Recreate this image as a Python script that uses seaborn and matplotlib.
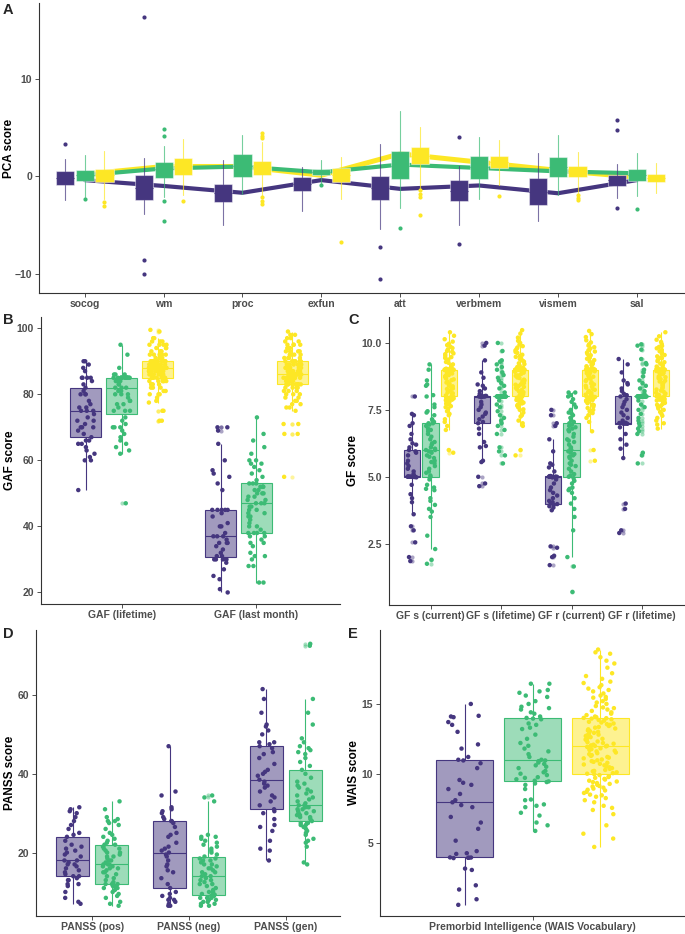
import numpy as np
import pandas as pd
import seaborn as sns
import matplotlib.pyplot as plt
from matplotlib.colors import to_rgba
from matplotlib import transforms

GROUPS = ["SZ", "BD", "HC"]
COLORS = {"SZ": "#45367F", "BD": "#3CBB75", "HC": "#FDE725"}

# ---- panel A: PCA domain scores (box summaries + group means) ----
PCA_DOMAINS = ["socog", "wm", "proc", "exfun", "att", "verbmem", "vismem", "sal"]

PCA_Q1_SZ = [-0.86, -2.47, -2.67, -1.5, -2.47, -2.57, -3.0, -0.96]
PCA_MED_SZ = [-0.2, -1.2, -1.7, -0.8, -1.2, -1.5, -1.6, -0.4]
PCA_Q3_SZ = [0.55, 0.1, -0.79, -0.07, 0.03, -0.41, -0.17, 0.14]
PCA_LO_SZ = [-2.47, -3.9, -5.0, -3.56, -5.4, -5.0, -4.6, -2.2]
PCA_HI_SZ = [1.8, 1.92, 1.7, 0.9, 3.36, 1.03, 2.36, 1.3]
PCA_OUT_SZ = [[3.3], [16.4, -8.56, -10.0], [], [], [-7.26, -10.6], [4.0, -7.0], [], [5.8, 4.73, -3.3]]
PCA_MEAN_SZ = [-0.4, -1.0, -1.7, -0.4, -1.3, -0.95, -1.75, -0.4]

PCA_Q1_BD = [-0.45, -0.14, -0.07, 0.1, -0.24, -0.24, -0.07, -0.51]
PCA_MED_BD = [0.1, 0.7, 1.0, 0.4, 1.1, 0.9, 0.9, 0.1]
PCA_Q3_BD = [0.62, 1.44, 2.26, 0.75, 2.57, 2.05, 1.95, 0.79]
PCA_LO_BD = [-2.1, -2.1, -1.8, -0.75, -3.3, -2.33, -1.95, -2.0]
PCA_HI_BD = [2.16, 3.15, 4.2, 1.64, 6.68, 4.0, 4.28, 2.36]
PCA_OUT_BD = [[-2.36], [4.83, 4.14, -2.53, -4.59], [], [-0.86], [-5.27], [], [], [-3.36]]
PCA_MEAN_BD = [0.1, 0.8, 1.0, 0.4, 1.2, 0.85, 0.5, 0.3]

PCA_Q1_HC = [-0.58, 0.1, 0.17, -0.58, 1.3, 0.86, -0.07, -0.62]
PCA_MED_HC = [0.1, 1.0, 0.9, 0.1, 2.1, 1.5, 0.5, -0.2]
PCA_Q3_HC = [0.72, 1.92, 1.6, 0.8, 3.0, 2.1, 1.1, 0.27]
PCA_LO_HC = [-2.3, -1.9, -2.05, -2.3, -1.2, -0.86, -1.7, -1.68]
PCA_HI_HC = [2.57, 3.8, 3.5, 2.0, 5.07, 3.7, 2.47, 1.4]
PCA_OUT_HC = [[-2.64, -3.08], [-2.57], [4.4, 4.1, 3.9, -2.1, -2.5, -2.9], [-6.75],
              [-1.4, -1.8, -2.1, -3.94], [-2.05], [-1.95, -2.2, -2.4], []]
PCA_MEAN_HC = [0.2, 1.0, 1.0, 0.1, 2.3, 1.45, 0.6, -0.1]

# ---- panel B: GAF ----
GAF_MEASURES = ["GAF (lifetime)", "GAF (last month)"]
GAF_LIFE_SZ = [51, 60, 60, 61, 62, 63, 64, 65, 65, 66, 66, 67, 68, 69, 70, 70, 70, 71, 72, 72, 73, 74, 75,
               75, 75, 76, 76, 77, 78, 80, 80, 80, 81, 82, 83, 84, 85, 85, 85, 85, 87, 88, 89, 90, 90]
GAF_LIFE_BD = [47, 62, 63, 64, 65, 66, 67, 68, 69, 70, 70, 70, 71, 72, 73, 75, 75, 75, 76, 77, 77, 78, 78,
               79, 80, 80, 80, 81, 81, 82, 82, 82, 83, 83, 84, 84, 84, 85, 85, 85, 85, 85, 85, 85, 85, 85,
               85, 85, 85, 85, 85, 85, 85, 86, 86, 86, 88, 92, 95]
GAF_LIFE_HC = [72, 72, 75, 75, 77.5, 78, 79, 80, 80, 80, 81, 81, 82, 82, 82, 83, 83, 83, 83, 84, 84, 84, 84,
               84, 84, 85, 85, 85, 85, 85, 85, 85, 85, 86, 86, 86, 86, 86, 86, 86, 87, 87, 87, 87, 87, 87,
               87, 87, 87, 87, 88, 88, 88, 88, 88, 88, 88, 88, 88, 88, 88, 88, 88, 88, 88, 89, 89, 89, 89,
               89, 89, 89, 89, 89, 89, 89, 89, 89, 90, 90, 90, 90, 90, 90, 90, 90, 90, 90, 90, 90, 90, 90,
               90, 91, 91, 91, 91, 92, 92, 92, 92, 92, 93, 93, 93, 93, 94, 94, 94, 95, 95, 95, 95, 96, 96,
               96, 97, 97, 99, 99.5]
GAF_MONTH_SZ = [20, 21, 24, 25, 27, 29, 30, 30, 30, 30, 30, 31, 31, 32, 33, 34, 35, 35, 35, 36, 37, 37, 37,
                38, 40, 40, 41, 43, 44, 45, 45, 45, 45, 45, 51, 53, 55, 56, 57, 60, 65, 69, 70, 70]
GAF_MONTH_BD = [23, 23, 28, 28, 30, 31, 31, 32, 34, 35, 35, 36, 37, 37, 38, 38, 38, 38, 39, 40, 40, 41, 42,
                43, 43, 44, 44, 45, 45, 46, 46, 47, 47, 47, 48, 48, 49, 49, 50, 50, 50, 51, 51, 52, 52, 52,
                52, 53, 53, 53, 54, 55, 56, 57, 58, 59, 59, 60, 60, 62, 64, 66, 68, 73]
GAF_MONTH_HC = [55, 68, 68, 71, 71, 75, 76, 76, 77, 77, 78, 78, 79, 79, 80, 80, 80, 81, 81, 81, 82, 82, 82,
                82, 83, 83, 83, 83, 83, 83, 83, 83, 83, 83, 84, 84, 84, 84, 84, 84, 84, 85, 85, 85, 85, 85,
                85, 85, 85, 85, 85, 86, 86, 86, 86, 86, 86, 86, 86, 86, 86, 86, 86, 87, 87, 87, 87, 87, 87,
                87, 88, 88, 88, 88, 88, 88, 88, 89, 89, 89, 89, 89, 89, 89, 90, 90, 90, 90, 90, 90, 90, 90,
                90, 90, 91, 91, 91, 91, 92, 92, 92, 92, 93, 93, 93, 93, 94, 94, 94, 95, 95, 95, 95, 96, 96,
                97, 97, 98, 98, 99]

# ---- panel C: GF ----
GF_MEASURES = ["GF s (current)", "GF s (lifetime)", "GF r (current)", "GF r (lifetime)"]
GFS_CUR_SZ = [1.85, 2.0, 2.55, 3.0, 3.15, 3.6, 4.05, 4.2, 4.35, 4.7, 4.98, 4.99, 5.0, 5.0, 5.0, 5.0, 5.0,
              5.0, 5.01, 5.01, 5.02, 5.1, 5.2, 5.3, 5.4, 5.5, 5.6, 5.8, 5.9, 5.95, 6.0, 6.1, 6.2, 6.25,
              6.4, 6.6, 6.9, 7.0, 7.3, 7.35, 8.0]
GFS_CUR_BD = [1.75, 1.9, 2.3, 2.8, 3.5, 3.7, 3.8, 3.95, 4.1, 4.2, 4.5, 4.55, 4.6, 4.7, 4.9, 5.0, 5.05, 5.15,
              5.2, 5.3, 5.4, 5.5, 5.55, 5.6, 5.7, 5.75, 5.8, 5.9, 5.95, 6.0, 6.0, 6.05, 6.1, 6.2, 6.25,
              6.3, 6.4, 6.5, 6.6, 6.7, 6.75, 6.8, 6.9, 6.95, 7.0, 7.0, 7.05, 7.1, 7.15, 7.3, 7.4, 7.45,
              7.6, 7.7, 8.0, 8.05, 8.4, 8.45, 8.6, 9.0, 9.2]
GFS_CUR_HC = [5.9, 6.0, 6.75, 6.9, 7.05, 7.15, 7.3, 7.35, 7.45, 7.55, 7.6, 7.64, 7.71, 7.73, 7.78, 7.8, 7.84,
              7.86, 7.88, 7.91, 7.93, 7.94, 7.96, 7.98, 7.99, 8.0, 8.04, 8.09, 8.12, 8.15, 8.2, 8.23, 8.28,
              8.3, 8.35, 8.38, 8.41, 8.47, 8.52, 8.55, 8.61, 8.64, 8.67, 8.73, 8.76, 8.8, 8.86, 8.88, 8.93,
              8.96, 9.0, 9.0, 9.0, 9.0, 9.0, 9.0, 9.0, 9.0, 9.0, 9.0, 9.0, 9.0, 9.0, 9.0, 9.0, 9.0, 9.0,
              9.0, 9.0, 9.0, 9.0, 9.0, 9.0, 9.0, 9.0, 9.0, 9.04, 9.06, 9.11, 9.17, 9.2, 9.26, 9.29, 9.35,
              9.38, 9.44, 9.47, 9.52, 9.58, 9.61, 9.67, 9.7, 9.76, 9.81, 9.86, 9.92, 9.97, 10.05, 10.14,
              10.27, 10.4]
GFS_LIFE_SZ = [4.65, 4.75, 5.0, 5.55, 5.6, 6.1, 6.15, 6.3, 6.6, 6.8, 7.0, 7.05, 7.15, 7.25, 7.35, 7.4, 7.5,
               7.6, 7.7, 7.8, 7.98, 7.99, 8.0, 8.0, 8.0, 8.0, 8.0, 8.0, 8.01, 8.02, 8.02, 8.1, 8.2, 8.3,
               8.4, 8.45, 8.7, 8.9, 9.35, 9.9, 10.0]
GFS_LIFE_BD = [5.5, 5.8, 5.95, 6.1, 6.6, 6.75, 6.9, 7.0, 7.1, 7.2, 7.3, 7.45, 7.6, 7.7, 7.85, 8.0, 8.0, 8.0,
               8.0, 8.0, 8.0, 8.0, 8.0, 8.0, 8.0, 8.0, 8.0, 8.0, 8.0, 8.0, 8.0, 8.0, 8.0, 8.0, 8.0, 8.0,
               8.0, 8.0, 8.0, 8.0, 8.0, 8.0, 8.0, 8.0, 8.0, 8.0, 8.15, 8.3, 8.4, 8.5, 8.6, 8.7, 8.8, 8.9,
               9.0, 9.1, 9.2, 9.3, 9.35, 9.7, 10.0]
GFS_LIFE_HC = [5.8, 6.0, 6.9, 7.0, 7.1, 7.25, 7.3, 7.4, 7.5, 7.52, 7.6, 7.66, 7.7, 7.74, 7.77, 7.81, 7.83,
               7.87, 7.89, 7.9, 7.93, 7.95, 7.97, 7.98, 7.99, 8.0, 8.03, 8.08, 8.1, 8.16, 8.19, 8.24, 8.27,
               8.32, 8.36, 8.39, 8.44, 8.46, 8.5, 8.57, 8.6, 8.63, 8.69, 8.71, 8.77, 8.79, 8.84, 8.89, 8.92,
               8.97, 9.0, 9.0, 9.0, 9.0, 9.0, 9.0, 9.0, 9.0, 9.0, 9.0, 9.0, 9.0, 9.0, 9.0, 9.0, 9.0, 9.0,
               9.0, 9.0, 9.0, 9.0, 9.0, 9.0, 9.0, 9.0, 9.0, 9.03, 9.08, 9.1, 9.15, 9.21, 9.24, 9.3, 9.33,
               9.4, 9.42, 9.48, 9.51, 9.56, 9.63, 9.66, 9.72, 9.78, 9.83, 9.88, 9.94, 10.0, 10.08, 10.2,
               10.35, 10.48]
GFR_CUR_SZ = [1.7, 2.0, 2.05, 2.35, 2.4, 3.75, 3.85, 3.9, 3.95, 3.98, 4.0, 4.05, 4.1, 4.2, 4.3, 4.4, 4.5,
              4.6, 4.75, 4.9, 4.98, 4.99, 5.0, 5.0, 5.0, 5.0, 5.0, 5.0, 5.01, 5.02, 5.03, 5.2, 5.35, 5.45,
              5.5, 5.95, 6.4, 6.9, 7.0, 7.3, 7.5]
GFR_CUR_BD = [0.7, 1.65, 2.0, 3.0, 3.5, 3.8, 4.0, 4.2, 4.4, 4.5, 4.55, 4.6, 4.75, 4.85, 4.95, 5.0, 5.05, 5.1,
              5.2, 5.3, 5.4, 5.45, 5.5, 5.6, 5.7, 5.75, 5.8, 5.85, 5.9, 5.95, 6.0, 6.05, 6.1, 6.2, 6.3,
              6.35, 6.4, 6.5, 6.6, 6.7, 6.75, 6.8, 6.85, 6.9, 6.95, 7.0, 7.05, 7.1, 7.2, 7.3, 7.35, 7.4,
              7.5, 7.6, 7.7, 7.8, 7.9, 8.0, 8.05, 8.15, 8.15]
GFR_CUR_HC = [5.6, 6.0, 6.7, 7.05, 7.2, 7.3, 7.38, 7.45, 7.5, 7.57, 7.62, 7.68, 7.7, 7.75, 7.79, 7.82, 7.85,
              7.87, 7.9, 7.92, 7.94, 7.95, 7.97, 7.98, 7.99, 8.0, 8.05, 8.07, 8.13, 8.17, 8.21, 8.25, 8.29,
              8.33, 8.37, 8.4, 8.45, 8.49, 8.53, 8.58, 8.62, 8.66, 8.7, 8.74, 8.78, 8.83, 8.87, 8.9, 8.94,
              8.98, 9.0, 9.0, 9.0, 9.0, 9.0, 9.0, 9.0, 9.0, 9.0, 9.0, 9.0, 9.0, 9.0, 9.0, 9.0, 9.0, 9.0,
              9.0, 9.0, 9.0, 9.0, 9.0, 9.0, 9.0, 9.0, 9.0, 9.05, 9.09, 9.13, 9.18, 9.22, 9.27, 9.31, 9.36,
              9.41, 9.45, 9.5, 9.54, 9.59, 9.64, 9.68, 9.73, 9.79, 9.84, 9.9, 9.95, 10.02, 10.1, 10.22,
              10.33, 10.45]
GFR_LIFE_SZ = [2.9, 3.0, 3.8, 4.0, 5.7, 6.05, 6.2, 6.4, 6.6, 6.85, 6.98, 6.99, 7.0, 7.0, 7.0, 7.0, 7.0, 7.0,
               7.01, 7.01, 7.02, 7.1, 7.2, 7.3, 7.4, 7.5, 7.6, 7.7, 7.8, 7.9, 8.0, 8.05, 8.1, 8.2, 8.3,
               8.45, 8.5, 8.6, 8.9, 9.2, 9.4]
GFR_LIFE_BD = [5.5, 5.8, 5.9, 6.6, 6.7, 6.8, 6.9, 7.0, 7.1, 7.2, 7.35, 7.5, 7.6, 7.7, 7.85, 8.0, 8.0, 8.0,
               8.0, 8.0, 8.0, 8.0, 8.0, 8.0, 8.0, 8.0, 8.0, 8.0, 8.0, 8.0, 8.0, 8.0, 8.0, 8.0, 8.0, 8.0,
               8.0, 8.0, 8.0, 8.0, 8.0, 8.0, 8.0, 8.0, 8.0, 8.0, 8.1, 8.2, 8.3, 8.4, 8.5, 8.6, 8.75, 8.9,
               9.0, 9.2, 9.25, 9.4, 9.75, 9.9, 9.95]
GFR_LIFE_HC = [6.8, 6.95, 7.0, 7.1, 7.2, 7.28, 7.36, 7.42, 7.5, 7.55, 7.61, 7.65, 7.69, 7.72, 7.76, 7.8, 7.83,
               7.85, 7.88, 7.9, 7.92, 7.94, 7.96, 7.98, 7.99, 8.0, 8.02, 8.06, 8.11, 8.14, 8.18, 8.22, 8.26,
               8.31, 8.34, 8.4, 8.43, 8.48, 8.51, 8.56, 8.59, 8.65, 8.68, 8.72, 8.75, 8.81, 8.84, 8.88, 8.91,
               8.95, 9.0, 9.0, 9.0, 9.0, 9.0, 9.0, 9.0, 9.0, 9.0, 9.0, 9.0, 9.0, 9.0, 9.0, 9.0, 9.0, 9.0,
               9.0, 9.0, 9.0, 9.0, 9.0, 9.0, 9.0, 9.0, 9.0, 9.02, 9.07, 9.12, 9.14, 9.19, 9.23, 9.28, 9.32,
               9.37, 9.43, 9.46, 9.5, 9.55, 9.6, 9.65, 9.69, 9.74, 9.8, 9.85, 9.89, 9.96, 10.04, 10.12,
               10.25, 10.4]

# ---- panel D: PANSS (patients only) ----
PANSS_MEASURES = ["PANSS (pos)", "PANSS (neg)", "PANSS (gen)"]
PANSS_POS_SZ = [7, 7.5, 8.5, 10, 11.5, 12, 12, 13, 13, 13.5, 14, 14, 14.5, 15, 15.5, 16, 16.5, 17, 17, 17.5,
                18, 18, 19, 19.5, 20, 20.5, 21, 21.5, 22, 23, 24, 24.5, 25, 26, 27, 28, 29, 30, 30.5, 31,
                31.5]
PANSS_POS_BD = [6.5, 7, 7.5, 8.5, 9, 9.5, 10, 10.5, 11, 11, 11.5, 11.5, 12, 12, 12, 12, 12.5, 13, 13.5, 14,
                14.5, 15, 15, 15.5, 16, 16, 16.5, 16.5, 17, 17, 17, 17.5, 18, 18, 18.5, 19, 19, 19.5, 20,
                20, 20.5, 21, 21, 21.5, 22, 22, 22.5, 23, 23.5, 24, 24.5, 25, 26, 27, 27.5, 28, 28, 28.5,
                29, 31, 33]
PANSS_NEG_SZ = [6.5, 6.5, 7, 7.5, 8, 8, 8.5, 9, 9.5, 10, 11, 12, 13.5, 15, 15.5, 16.5, 17, 18, 19, 19.5, 20,
                20.5, 21, 21.5, 22.5, 24, 24.5, 25, 26.5, 27.5, 28, 28, 28.5, 29, 30, 30.5, 31, 31.5, 34.5,
                35.5, 47]
PANSS_NEG_BD = [6.5, 6.5, 7, 7, 7.5, 7.5, 8, 8, 8, 8.5, 8.5, 8.5, 9, 9, 9, 9.3, 9.5, 9.5, 10, 10, 10.5, 11,
                11.5, 12, 12, 12.5, 13, 13, 13.5, 14, 14, 14.5, 15, 15, 15.5, 16, 16, 16.5, 17, 17, 17.5,
                18, 18, 18.5, 18.5, 19, 19.5, 20, 20.5, 21, 21.5, 22, 22.5, 23, 23.5, 24, 24, 24.5, 33, 34,
                34.5]
PANSS_GEN_SZ = [18, 20.5, 21, 23, 25.5, 26.5, 27, 28.5, 30, 30.5, 31, 32, 33, 34, 34.5, 35.5, 36.5, 37, 37.5,
                38, 38.5, 39.5, 40, 40.5, 41, 42.5, 44, 45, 45.5, 46.5, 47, 47.5, 48, 48, 50, 51, 52, 52.5,
                55.5, 59, 61.5]
PANSS_GEN_BD = [17, 17.5, 21.5, 22.5, 23, 23.5, 24.5, 25, 25.5, 26, 26.5, 27, 27, 27.5, 27.5, 28, 28.5, 29,
                29, 29.5, 29.5, 30, 30, 30.5, 30.5, 31, 31, 31.5, 31.5, 32, 32, 32.5, 33, 33.5, 34, 34.5,
                35, 35.5, 36, 36.5, 37, 37.5, 38, 39, 40, 41, 42, 43, 44, 45, 45.5, 46, 46.5, 47, 48, 49,
                52.5, 55.5, 59, 72.5, 73]

# ---- panel E: WAIS vocabulary ----
WAIS_MEASURE = ["Premorbid Intelligence (WAIS Vocabulary)"]
WAIS_SZ = [0.6, 1.0, 1.7, 2.0, 3.1, 3.2, 3.95, 3.97, 3.98, 3.99, 4.0, 4.25, 4.3, 4.45, 5.2, 6.05, 6.5, 6.9,
           7.6, 7.75, 7.95, 8.1, 8.55, 8.9, 9.2, 9.35, 9.55, 10.4, 10.75, 10.95, 11.0, 11.2, 11.8, 12.1,
           13.0, 13.5, 13.7, 14.05, 14.1, 14.15, 15.0]
WAIS_BD = [5.9, 6.3, 6.5, 7.0, 7.2, 7.6, 7.7, 7.8, 8.1, 8.15, 8.9, 9.2, 9.3, 9.4, 9.45, 9.5, 9.6, 9.7, 9.75,
           9.9, 10.0, 10.1, 10.2, 10.4, 10.5, 10.6, 10.7, 10.8, 10.9, 10.95, 11.0, 11.2, 11.4, 11.6, 11.8,
           12.0, 12.2, 12.5, 12.8, 13.2, 13.3, 13.5, 13.6, 13.9, 13.95, 14.0, 14.1, 14.3, 14.4, 14.6, 14.7,
           14.8, 15.0, 15.2, 15.5, 15.6, 15.8, 15.9, 16.0, 16.45, 16.45]
WAIS_HC = [4.75, 5.35, 5.7, 6.3, 7.1, 7.4, 7.55, 7.7, 7.95, 8.1, 8.25, 8.35, 8.45, 8.5, 8.62, 8.7, 8.8, 8.85,
           8.93, 9.0, 9.08, 9.12, 9.2, 9.27, 9.33, 9.4, 9.44, 9.5, 9.58, 9.63, 9.7, 9.76, 9.82, 9.9, 9.96,
           10.0, 10.04, 10.1, 10.17, 10.2, 10.27, 10.35, 10.4, 10.46, 10.52, 10.6, 10.66, 10.71, 10.78,
           10.85, 10.9, 10.96, 11.02, 11.1, 11.15, 11.2, 11.28, 11.33, 11.4, 11.47, 11.52, 11.6, 11.65,
           11.7, 11.76, 11.82, 11.88, 11.92, 11.96, 11.99, 12.0, 12.03, 12.08, 12.15, 12.2, 12.26, 12.31,
           12.38, 12.45, 12.5, 12.55, 12.62, 12.7, 12.74, 12.8, 12.86, 12.93, 13.0, 13.05, 13.1, 13.18,
           13.24, 13.3, 13.35, 13.42, 13.5, 13.55, 13.6, 13.67, 13.72, 13.8, 13.85, 13.9, 13.95, 13.98,
           14.0, 14.05, 14.1, 14.2, 14.3, 14.4, 14.5, 14.6, 14.7, 14.75, 14.85, 15.0, 15.1, 15.2, 15.35,
           15.45, 15.5, 15.6, 15.75, 15.9, 16.0, 16.1, 16.2, 16.35, 16.5, 16.6, 16.8, 17.0, 17.2, 17.6,
           17.9, 18.1, 18.35, 18.6, 18.7, 18.9]


def long_frame(measures, table):
    rows = []
    for m, per_group in zip(measures, table):
        for g, vals in per_group.items():
            rows += [(m, g, v) for v in vals]
    return pd.DataFrame(rows, columns=["measure", "group", "score"])


def style_axes(ax, ylabel, label_x):
    sns.despine(ax=ax)
    for s in ("left", "bottom"):
        ax.spines[s].set_color("#333333")
        ax.spines[s].set_linewidth(0.8)
    ax.tick_params(axis="both", length=3, width=0.6, color="#333333",
                   labelcolor="#4D4D4D", labelsize=7.5, pad=2)
    ax.tick_params(axis="x", pad=1.5)
    for lab in ax.get_xticklabels() + ax.get_yticklabels():
        lab.set_fontweight("bold")
    ax.set_xlabel("")
    ax.set_ylabel(ylabel, fontsize=8.5, fontweight="bold", color="black")
    # right edge of the rotated title, in figure pixels
    tr = transforms.blended_transform_factory(fig.transFigure, ax.transAxes)
    ax.yaxis.set_label_coords(label_x / W, 0.5, transform=tr)


def box_strip(ax, frame, order, hue_order, jitter, gap):
    for g in hue_order:
        sub = frame[frame["group"] == g]
        n_p, n_l = len(ax.patches), len(ax.lines)
        sns.boxplot(data=sub, x="measure", y="score", hue="group", order=order,
                    hue_order=hue_order, palette=COLORS, saturation=1, dodge=True,
                    width=0.8, gap=gap, linecolor=COLORS[g], linewidth=0.8,
                    fliersize=3, showcaps=False, legend=False, ax=ax)
        for p in ax.patches[n_p:]:
            p.set_facecolor(to_rgba(COLORS[g], 0.5))
            p.set_edgecolor(COLORS[g])
        for ln in ax.lines[n_l:]:
            if str(ln.get_linestyle()).lower() in ("none", ""):
                ln.set_marker("o")
                ln.set_markerfacecolor(COLORS[g])
                ln.set_markeredgecolor("none")
                ln.set_alpha(0.45)
    sns.stripplot(data=frame, x="measure", y="score", hue="group", order=order,
                  hue_order=hue_order, palette=COLORS, dodge=True, jitter=jitter,
                  size=3.2, linewidth=0, legend=False, ax=ax, zorder=3)


sns.set_theme(style="ticks")
plt.rcParams["font.family"] = ["Liberation Sans", "DejaVu Sans"]

W, H = 685, 934
fig = plt.figure(figsize=(W / 100, H / 100), dpi=100)


def add_axes(left, top, right, bottom):
    return fig.add_axes([left / W, 1 - bottom / H, (right - left) / W, (bottom - top) / H])


np.random.seed(7)

# ---- A ----
axA = add_axes(39, 3, 684, 293)
pos = np.arange(len(PCA_DOMAINS))
pca_groups = {
    "SZ": (PCA_Q1_SZ, PCA_MED_SZ, PCA_Q3_SZ, PCA_LO_SZ, PCA_HI_SZ, PCA_OUT_SZ, PCA_MEAN_SZ),
    "BD": (PCA_Q1_BD, PCA_MED_BD, PCA_Q3_BD, PCA_LO_BD, PCA_HI_BD, PCA_OUT_BD, PCA_MEAN_BD),
    "HC": (PCA_Q1_HC, PCA_MED_HC, PCA_Q3_HC, PCA_LO_HC, PCA_HI_HC, PCA_OUT_HC, PCA_MEAN_HC),
}
for g, lw in (("HC", 3.6), ("BD", 3.0), ("SZ", 3.0)):
    sns.lineplot(x=pos, y=pca_groups[g][6], color=COLORS[g], linewidth=lw, ax=axA, zorder=1)
for gi, g in enumerate(GROUPS):
    q1, med, q3, lo, hi, out, _ = pca_groups[g]
    stats = [dict(q1=a, med=b, q3=c, whislo=d, whishi=e, fliers=f)
             for a, b, c, d, e, f in zip(q1, med, q3, lo, hi, out)]
    axA.bxp(stats, positions=pos + (gi - 1) * 0.25, widths=0.23, patch_artist=True,
            showcaps=False, manage_ticks=False, zorder=2,
            boxprops=dict(facecolor=COLORS[g], edgecolor=(1, 1, 1, 0.45), linewidth=0.8),
            whiskerprops=dict(color=to_rgba(COLORS[g], 0.7), linewidth=0.8),
            medianprops=dict(color=COLORS[g], linewidth=0.8),
            flierprops=dict(marker="o", markersize=3, markerfacecolor=COLORS[g],
                            markeredgecolor="none"))
axA.set_xticks(pos)
axA.set_xticklabels(PCA_DOMAINS)
axA.set_xlim(-0.58, 7.6)
axA.set_ylim(-12.0, 17.8)
axA.set_yticks([-10, 0, 10])
style_axes(axA, "PCA score", 15)

# ---- B ----
axB = add_axes(41, 317, 340, 604)
gaf = long_frame(GAF_MEASURES, [
    {"SZ": GAF_LIFE_SZ, "BD": GAF_LIFE_BD, "HC": GAF_LIFE_HC},
    {"SZ": GAF_MONTH_SZ, "BD": GAF_MONTH_BD, "HC": GAF_MONTH_HC},
])
box_strip(axB, gaf, GAF_MEASURES, GROUPS, 0.2, 0.14)
axB.set_xlim(-0.6, 1.62)
axB.set_ylim(16.5, 103.4)
axB.set_yticks([20, 40, 60, 80, 100])
style_axes(axB, "GAF score", 16)

# ---- C ----
axC = add_axes(389, 317, 685, 605)
gf = long_frame(GF_MEASURES, [
    {"SZ": GFS_CUR_SZ, "BD": GFS_CUR_BD, "HC": GFS_CUR_HC},
    {"SZ": GFS_LIFE_SZ, "BD": GFS_LIFE_BD, "HC": GFS_LIFE_HC},
    {"SZ": GFR_CUR_SZ, "BD": GFR_CUR_BD, "HC": GFR_CUR_HC},
    {"SZ": GFR_LIFE_SZ, "BD": GFR_LIFE_BD, "HC": GFR_LIFE_HC},
])
box_strip(axC, gf, GF_MEASURES, GROUPS, 0.2, 0.14)
axC.set_xlim(-0.59, 3.61)
axC.set_ylim(0.21, 10.97)
axC.set_yticks([2.5, 5.0, 7.5, 10.0])
axC.set_yticklabels(["2.5", "5.0", "7.5", "10.0"])
style_axes(axC, "GF score", 359)

# ---- D ----
axD = add_axes(36, 630, 340, 916)
panss = long_frame(PANSS_MEASURES, [
    {"SZ": PANSS_POS_SZ, "BD": PANSS_POS_BD},
    {"SZ": PANSS_NEG_SZ, "BD": PANSS_NEG_BD},
    {"SZ": PANSS_GEN_SZ, "BD": PANSS_GEN_BD},
])
box_strip(axD, panss, PANSS_MEASURES, ["SZ", "BD"], 0.18, 0.15)
axD.set_xlim(-0.58, 2.56)
axD.set_ylim(3.9, 76.5)
axD.set_yticks([20, 40, 60])
style_axes(axD, "PANSS score", 16)

# ---- E ----
axE = add_axes(380, 630, 685, 916)
wais = long_frame(WAIS_MEASURE, [{"SZ": WAIS_SZ, "BD": WAIS_BD, "HC": WAIS_HC}])
box_strip(axE, wais, WAIS_MEASURE, GROUPS, 0.2, 0.16)
axE.set_xlim(-0.6, 0.6)
axE.set_ylim(-0.2, 20.3)
axE.set_yticks([5, 10, 15])
style_axes(axE, "WAIS score", 360)

for letter, x, y in (("A", 3, 3), ("B", 3, 313), ("C", 348, 313), ("D", 3, 627), ("E", 348, 627)):
    fig.text(x / W, 1 - y / H, letter, fontsize=10.5, fontweight="bold", va="top", ha="left")

fig.savefig("out.png", dpi=100)
